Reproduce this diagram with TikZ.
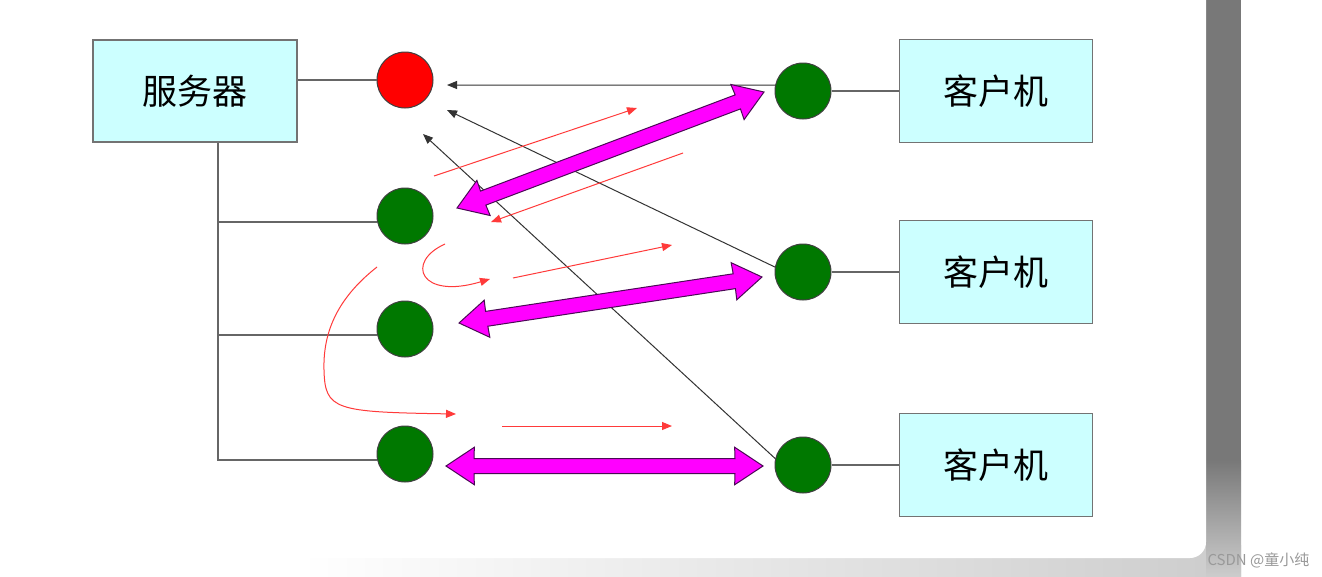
\documentclass[tikz,border=0pt]{standalone}
\usepackage{fontspec}
\newfontfamily\cjk{Noto Sans CJK SC}
\usetikzlibrary{arrows.meta}
\usetikzlibrary{calc}
\definecolor{boxcyan}{HTML}{CCFFFF}
\definecolor{portgreen}{HTML}{007800}
\definecolor{bandgray}{HTML}{787878}
\definecolor{flowred}{HTML}{FF3A3A}
\definecolor{linkmag}{HTML}{FF00FF}
\definecolor{duplexline}{HTML}{4A0A55}
\tikzset{
  hostbox/.style={draw=black!55, fill=boxcyan, line width=1.5pt, inner sep=0pt,
    font=\cjk\fontsize{35}{38}\selectfont},
  port/.style={circle, draw=black!75, fill=portgreen, line width=1pt,
    minimum size=56pt, inner sep=0pt},
  wire/.style={draw=black!60, line width=1.5pt},
  poll/.style={draw=black!80, line width=1pt, -{Triangle[length=10pt,width=8pt]}},
  flow/.style={draw=flowred, line width=1pt, -{Triangle[length=10pt,width=8pt]}},
  duplex/.style={draw=duplexline, fill=linkmag, line width=1pt, line join=miter},
}
\newcommand{\linkarrow}[2]{%
  \filldraw[duplex] let \p1=($(#2)-(#1)$), \n1={atan2(\y1,\x1)} in
    (#1) -- ($(#1)+(\n1+33.5:34pt)$) -- ($(#1)+(\n1+15:29pt)$)
    -- ($(#2)+(\n1+165:29pt)$) -- ($(#2)+(\n1+146.5:34pt)$) -- (#2)
    -- ($(#2)+(\n1+213.5:34pt)$) -- ($(#2)+(\n1+195:29pt)$)
    -- ($(#1)+(\n1-15:29pt)$) -- ($(#1)+(\n1-33.5:34pt)$) -- cycle;
}

\begin{document}
\begin{tikzpicture}[x=1pt,y=-1pt]
\useasboundingbox (0,0) rectangle (1322,576);
\fill[white] (0,0) rectangle (1322,576);
\shade[left color=white, right color=black!20] (300,545) rectangle (1241,576);
\fill[bandgray] (1206,0) rectangle (1241,460);
\shade[top color=bandgray, bottom color=black!20] (1206,460) rectangle (1241,576);
\fill[white, rounded corners=16pt] (-20,-20) rectangle (1206,558);
\node[anchor=west, text=black!40, font=\cjk\fontsize{15}{15}\selectfont] (mark) at (1204,560) {CSDN @童小纯};

\node[hostbox, minimum width=204pt, minimum height=102pt] (srv) at (195,91) {服务器};
\node[port, fill=red] (hub) at (405,80) {};
\node[port] (gl1) at (405,216) {};
\node[port] (gl2) at (405,329) {};
\node[port] (gl3) at (405,454) {};
\foreach \i/\y in {1/91,2/272,3/465} {
  \node[port] (gr\i) at (803,\y) {};
  \node[hostbox, minimum width=193pt, minimum height=103pt] (cl\i) at (996,\y) {客户机};
  \draw[wire] (gr\i) -- (cl\i);
}

\draw[wire] (hub.west -| srv.east) -- (hub.west);
\coordinate (trunk) at ($(srv.south)+(23,0)$);
\draw[wire] (trunk) |- ([yshift=-6pt]gl3.west);
\foreach \g in {gl1,gl2} {
  \coordinate (tap) at ([yshift=-6pt]\g.west);
  \draw[wire] (tap -| trunk) -- (tap);
}

\coordinate (t1) at (447,85);
\coordinate (t2) at (447,110);
\coordinate (t3) at (423,134);
\draw[poll] (gr1.168) -- (t1);
\draw[poll] (gr2.170) -- (t2);
\draw[poll] (gr3.167) -- (t3);

\draw[flow] (434,176) -- (637,108);
\draw[flow] (683,153) -- (491,222);
\draw[flow] (445,244) .. controls (405,262) and (420,300) .. (490,279);
\draw[flow] (513,278) -- (672,245);
\draw[flow] (377,267) .. controls (335,300) and (323,335) .. (324,370)
  .. controls (325,410) and (335,412) .. (456,414);
\draw[flow] (502,426) -- (672,426);

\coordinate (m1a) at (457,208);
\coordinate (m1b) at (764,92);
\coordinate (m2a) at (459,323);
\coordinate (m2b) at (762,277);
\coordinate (m3a) at (446,466);
\coordinate (m3b) at (763,466);
\linkarrow{m1a}{m1b}
\linkarrow{m2a}{m2b}
\linkarrow{m3a}{m3b}
\end{tikzpicture}
\end{document}
